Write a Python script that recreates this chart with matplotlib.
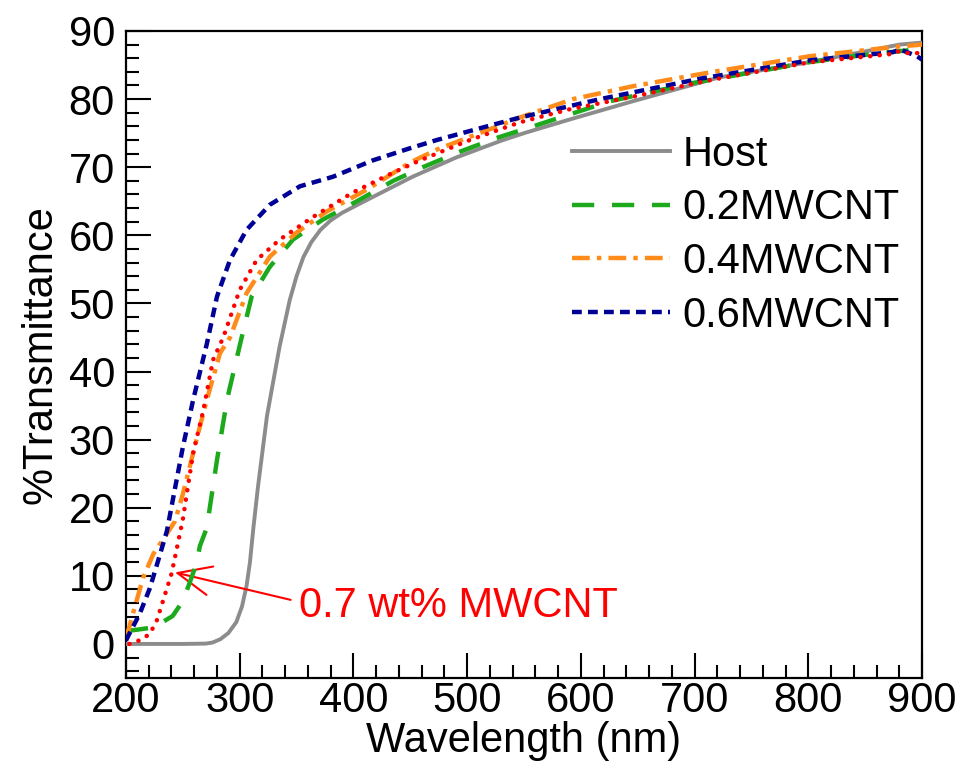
import matplotlib
matplotlib.use("Agg")
import matplotlib.pyplot as plt
from matplotlib.ticker import MultipleLocator

plt.rcParams['font.family'] = ['Liberation Sans', 'DejaVu Sans']

# ---- data ----
host_wl = [200, 250, 270, 276, 283, 290, 297, 302, 306, 309, 312, 316, 324, 335, 344, 350,
           356, 363, 371, 380, 390, 412, 452, 490, 530, 550, 590, 646, 722, 800, 850, 880, 900]
host_t = [0, 0, 0.05, 0.2, 0.7, 1.6, 3.2, 5.5, 8.5, 12, 17, 23, 33.5, 43.6, 50.5, 54,
          56.8, 59, 60.8, 62.2, 63.3, 65.2, 68.6, 71.4, 73.9, 75.0, 77, 79.7, 83.2, 85.4, 87, 88, 88.3]

c02_wl = [200, 210, 223, 230, 241, 250, 256, 262, 265, 271, 280, 289, 301.7, 310.5, 326.6,
          347, 373, 403, 435, 461, 494, 526, 558, 626, 693, 800, 850, 895, 900]
c02_t = [1.9, 2.1, 2.4, 3.0, 4.1, 6.3, 9.0, 11.8, 14.4, 17, 27, 36, 45, 51, 55.4,
         59.4, 62.3, 65, 68, 70, 72.3, 74.3, 76, 79.7, 82.2, 85.4, 86.5, 87.3, 87.2]

c04_wl = [200, 202, 206, 215, 224, 236, 243, 250, 262, 271, 282.7, 291.5, 306, 326.6, 350,
          376.5, 411.7, 450, 473.5, 511, 546.5, 593, 646, 716, 801.5, 878, 900]
c04_t = [1.0, 1.9, 4.4, 9.7, 13.2, 16.2, 18.0, 22, 30, 35.8, 42.7, 45, 51.5, 56.9, 60.4,
         63.5, 66.7, 70.7, 72.6, 75, 77.3, 80, 81.9, 84, 86.3, 87.7, 88]

c06_wl = [200, 202, 212, 221, 230, 236, 241, 250, 259, 271, 280, 291.5, 306, 326.6, 353,
          382, 417, 450, 473.5, 517.5, 546.5, 617, 705, 801.5, 874.6, 880.6, 895.6, 900]
c06_t = [0.5, 1.2, 4.4, 8.2, 13.2, 16.6, 21, 28.9, 35.8, 44, 51, 56.4, 60.8, 64.5, 67.2,
         68.6, 71.0, 72.8, 74, 76, 77.3, 80, 83, 85.7, 86.9, 87.3, 86.3, 85.8]

c07_wl = [203, 206, 215, 221, 227, 232.5, 240, 244.8, 250, 259, 268, 276.5, 285.5, 300, 315,
          335.4, 364.5, 399.6, 434.8, 458.5, 502.5, 546.5, 590, 650, 714, 801.5, 872, 878, 890, 900]
c07_t = [0.0, 0.1, 0.8, 1.5, 3.4, 6.3, 10.3, 14.1, 18.3, 28, 34.3, 41.7, 45, 52, 56.4,
         59.4, 62.7, 66.3, 69.2, 71, 74, 76.6, 78.5, 80.5, 82.8, 85.4, 86.6, 87, 86.7, 86.8]

legend_labels = ["Host", "0.2MWCNT", "0.4MWCNT", "0.6MWCNT"]
annot_label = "0.7 wt% MWCNT"
x_ticks = [200, 300, 400, 500, 600, 700, 800, 900]
y_ticks = [0, 10, 20, 30, 40, 50, 60, 70, 80, 90]

FS = 30

fig = plt.figure(figsize=(9.59, 7.74), dpi=100)
ax = fig.add_axes([126/959, (774-678)/774, (922-126)/959, (678-31)/774])

ax.plot(host_wl, host_t, color='#8c8c8c', lw=2.8, ls='-', label=legend_labels[0], zorder=3)
ax.plot(c02_wl, c02_t, color='#1caa1c', lw=3.2, ls=(0, (5, 4)), label=legend_labels[1], zorder=4)
ax.plot(c04_wl, c04_t, color='#ff8c1a', lw=3.2, ls=(0, (4, 1.6, 1, 1.6)), label=legend_labels[2], zorder=5)
ax.plot(c06_wl, c06_t, color='#000096', lw=3.2, ls=(0, (2.2, 1.4)), label=legend_labels[3], zorder=6)
ax.plot(c07_wl, c07_t, color='#ff0000', lw=3.2, ls=(0, (0.05, 2.1)), dash_capstyle='round', zorder=7)

ax.set_xlim(200, 900)
ax.set_ylim(-5, 90)
ax.set_xticks(x_ticks)
ax.set_yticks(y_ticks)
ax.xaxis.set_minor_locator(MultipleLocator(20))
ax.yaxis.set_minor_locator(MultipleLocator(2))
ax.tick_params(which='both', direction='in', top=False, right=False, width=1.5, colors='black')
ax.tick_params(which='major', length=18)
ax.tick_params(which='minor', length=9.5)
ax.tick_params(axis='x', which='major', labelsize=FS, pad=2)
ax.tick_params(axis='y', which='major', labelsize=FS, pad=8)
for sp in ax.spines.values():
    sp.set_linewidth(1.6)

ax.set_xlabel("Wavelength (nm)", fontsize=FS, labelpad=0)
ax.set_ylabel("%Transmittance", fontsize=FS, labelpad=6)

leg = ax.legend(loc='upper left', bbox_to_anchor=(0.56, 0.84), frameon=False, fontsize=FS,
                handlelength=2.35, handletextpad=0.3, labelspacing=0.33, borderpad=0,
                borderaxespad=0)

ax.annotate(annot_label, xy=(243, 10.5), xytext=(352, 5.6), color='#ff0000', fontsize=FS,
            ha='left', va='center',
            arrowprops=dict(arrowstyle='->, head_length=0.8, head_width=0.35', color='#ff0000', lw=1.5,
                            shrinkA=4, shrinkB=0, relpos=(0, 0.6)))

fig.savefig("out.png", dpi=100)
